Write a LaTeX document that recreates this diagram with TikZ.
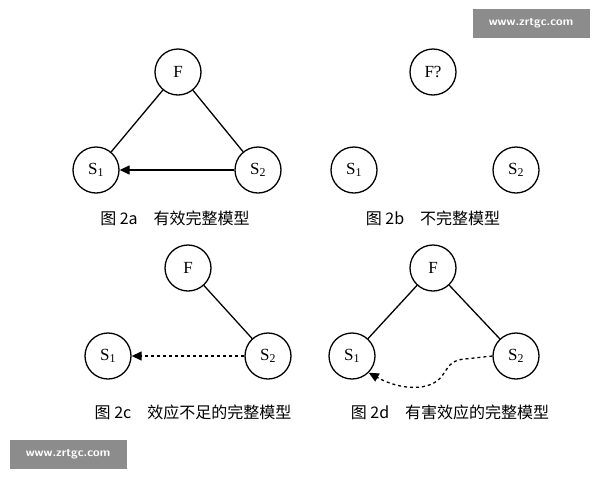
\documentclass[tikz,border=0pt]{standalone}
\usepackage{fontspec}
\newfontfamily\cjk{Noto Sans CJK SC}
\setmainfont{Liberation Serif}
\usetikzlibrary{arrows.meta}
\begin{document}
\begin{tikzpicture}[x=1pt,y=-1pt,
  nd/.style={circle,draw,line width=1.3pt,minimum size=46pt,inner sep=0pt,font=\fontsize{17}{17}\selectfont},
  captxt/.style={font=\cjk\fontsize{16}{16}\selectfont},
  ln/.style={line width=1.3pt},
  arr/.style={line width=1.3pt,-{Triangle[length=10pt,width=9pt]}},
  wm/.style={fill=black!45,text=white,font=\sffamily\bfseries\fontsize{12}{12}\selectfont,minimum width=117pt,minimum height=29pt,inner sep=0pt}]
\useasboundingbox (0,0) rectangle (600,480);
\node[wm] (w1) at (531,23) {www.zrtgc.com};
\node[wm] (w2) at (68,454) {www.zrtgc.com};
% 2a
\node[nd] (aF) at (178,72) {F};
\node[nd] (aS1) at (96,170) {S\textsubscript{1}};
\node[nd] (aS2) at (258,170) {S\textsubscript{2}};
\draw[ln] (aF) -- (aS1);
\draw[ln] (aF) -- (aS2);
\draw[arr] (aS2) -- (aS1);
\node[captxt] (ca) at (175,218) {图 2a\quad 有效完整模型};
% 2b
\node[nd] (bF) at (433,72) {F?};
\node[nd] (bS1) at (354,170) {S\textsubscript{1}};
\node[nd] (bS2) at (516,170) {S\textsubscript{2}};
\node[captxt] (cb) at (433,218) {图 2b\quad 不完整模型};
% 2c
\node[nd] (cF) at (188,268) {F};
\node[nd] (cS1) at (108,356) {S\textsubscript{1}};
\node[nd] (cS2) at (268,356) {S\textsubscript{2}};
\draw[ln] (cF) -- (cS2);
\draw[arr,dashed] (cS2) -- (cS1);
\node[captxt] (cc) at (193,412) {图 2c\quad 效应不足的完整模型};
% 2d
\node[nd] (dF) at (433,268) {F};
\node[nd] (dS1) at (352,356) {S\textsubscript{1}};
\node[nd] (dS2) at (516,356) {S\textsubscript{2}};
\draw[ln] (dF) -- (dS1);
\draw[ln] (dF) -- (dS2);
\draw[arr,dashed] (dS2.west) -- (465,359) .. controls (450,360) and (448,368) .. (442,376) .. controls (430,392) and (400,390) .. (dS1.south east);
\node[captxt] (cd) at (450,412) {图 2d\quad 有害效应的完整模型};
\end{tikzpicture}
\end{document}
